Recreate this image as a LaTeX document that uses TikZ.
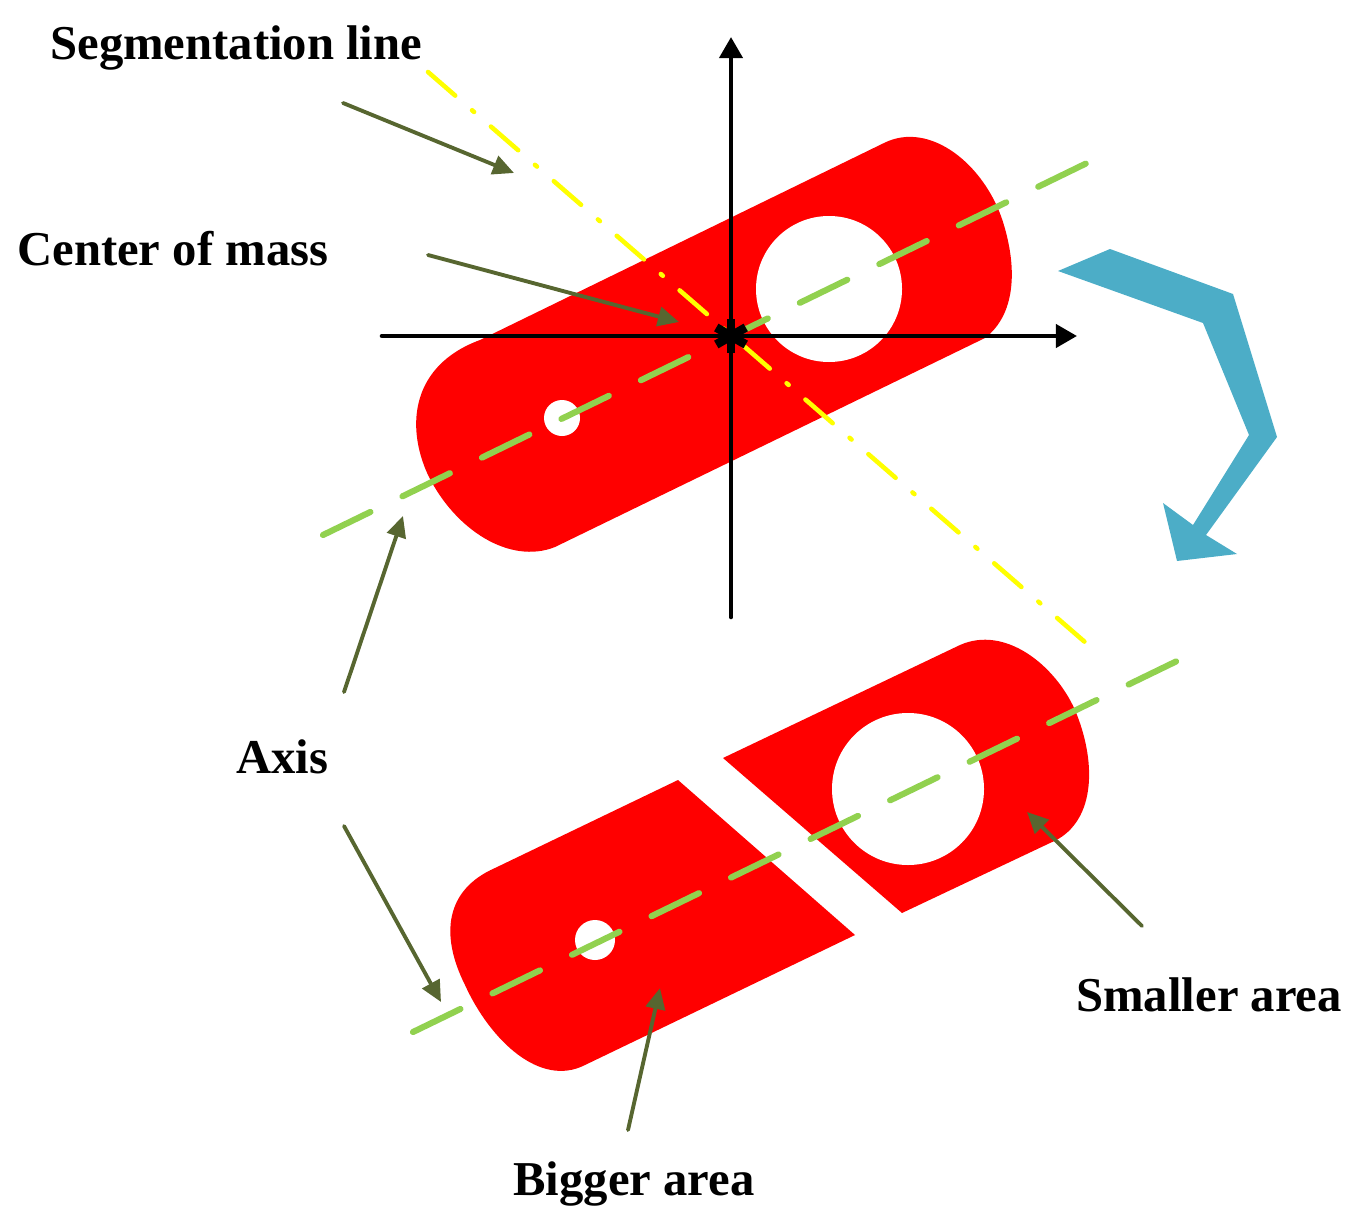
\documentclass[tikz,border=0pt]{standalone}
\usepackage{fontspec}
\setmainfont{Liberation Serif}
\usepackage{tkz-euclide}
\usetikzlibrary{arrows.meta,calc}
\definecolor{BodyClr}{rgb}{1,0,0}
\definecolor{AxisClr}{rgb}{0.57,0.82,0.31}
\definecolor{CutClr}{rgb}{1,1,0}
\definecolor{NoteClr}{rgb}{0.34,0.40,0.19}
\definecolor{TurnClr}{rgb}{0.30,0.68,0.78}
\tikzset{
  LabelTxt/.style={font=\fontsize{27.7}{30}\selectfont\bfseries,anchor=base west,inner sep=0pt},
  AxisDash/.style={line width=3.5pt,color=AxisClr,line cap=round,dash pattern=on 30pt off 20.3pt},
  CutDash/.style={line width=2.6pt,color=CutClr,dash pattern=on 20.5pt off 12.7pt on 1.5pt off 12.7pt},
  FrameArrow/.style={line width=2.6pt,color=black,-{Triangle[length=12pt,width=13pt]}},
  NoteArrow/.style={line width=2.2pt,color=NoteClr,-{Triangle[length=12pt,width=11pt]}}
}

\begin{document}
\begin{tikzpicture}[x=0.2mm,y=-0.2mm]
\useasboundingbox (0,0) rectangle (1356,1230);

\tkzDefPoints{428/72/SA,1086/643/SB,323/535/TA,1087/163/TB,413/1032/UA,1177/661/UB}
\tkzDefPoints{382/336/XA,1077/336/XB,731/617/YA,731/37/YB,731/336/CM}
\tkzDefPoints{343/103/PA,514/173/PB,428/255/QA,679/322/QB,344/692/RA,403/516/RB}
\tkzDefPoints{344/826/VA,441/1002/VB,628/1130/WA,660/988/WB,1142/926/ZA,1027/812/ZB}
\tkzDefPoints{829/289/HA,562/418/HB,908/789/HC,595/940/HD}
\tkzDefPoints{1058/271/B1,1110/249/B2,1233/294/B3,1277/437/B4,1206/535/B5,1237/554/B6}
\tkzDefPoints{1177/561/B7,1163/503/B8,1193/525/B9,1249/435/B10,1203/323/B11}

% upper body
\fill[BodyClr] (884,143) .. controls (930,120) and (985,165) .. (1003,222)
  .. controls (1018,270) and (1015,315) .. (985,338) -- (555,547)
  .. controls (510,565) and (455,530) .. (428,475)
  .. controls (405,425) and (412,365) .. (480,340) -- cycle;
% lower body
\fill[BodyClr] (678,780) -- (855,935) -- (585,1065)
  .. controls (540,1088) and (490,1040) .. (465,985)
  .. controls (440,935) and (445,890) .. (495,868) -- cycle;
\fill[BodyClr] (723,758) -- (960,645)
  .. controls (1005,625) and (1055,665) .. (1075,710)
  .. controls (1098,765) and (1095,825) .. (1050,843) -- (902,913) -- cycle;

\fill[white] (HA) circle (73);
\fill[white] (HB) circle (18);
\fill[white] (HC) circle (76);
\fill[white] (HD) circle (20);

\tkzDrawSegments[AxisDash](TA,TB UA,UB)
\tkzDrawSegments[CutDash](SA,SB)

\tkzFillPolygon[fill=TurnClr](B1,B2,B3,B4,B5,B6,B7,B8,B9,B10,B11)

\tkzDrawSegments[FrameArrow](XA,XB YA,YB)
\foreach \ang in {30,90,150}{
  \draw[line width=5pt] ($(CM)+(\ang:17)$) -- ($(CM)+(\ang+180:17)$);
}

\tkzDrawSegments[NoteArrow](PA,PB QA,QB RA,RB VA,VB WA,WB ZA,ZB)

\node (LblCut) [LabelTxt] at (50,60) {Segmentation line};
\node (LblMass) [LabelTxt] at (17,265) {Center of mass};
\node (LblAxis) [LabelTxt] at (236,773) {Axis};
\node (LblSmall) [LabelTxt] at (1076,1011) {Smaller area};
\node (LblBig) [LabelTxt] at (513,1195) {Bigger area};

\end{tikzpicture}
\end{document}
